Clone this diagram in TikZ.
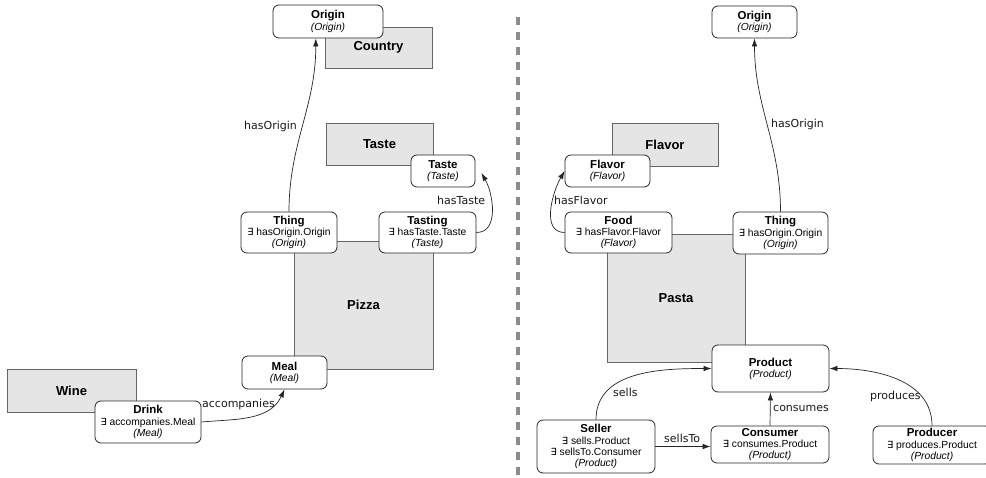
\documentclass[tikz,border=0pt]{standalone}
\usepackage{fontspec}
\setmainfont{Liberation Sans}
\newfontfamily\dejavu{DejaVu Sans}
\usetikzlibrary{arrows.meta,calc}

% title line, existential sign and range line inside a class box
\newcommand\ttl[1]{{\bfseries\fontsize{11.5}{11.2}\selectfont #1}}
\newcommand\exq{{\dejavu\fontsize{9.8}{11.2}\selectfont ∃}}
\newcommand\rng[1]{\textit{(#1)}}

\begin{document}
\begin{tikzpicture}[x=1pt,y=-1pt,
  conceptbox/.style={draw=black!60, fill=black!10, line width=0.8pt, inner sep=0pt,
    font=\bfseries\fontsize{13}{15}\selectfont},
  rbox/.style={draw=black!85, fill=white, rounded corners=6pt, line width=0.8pt,
    align=center, inner sep=0pt, font=\fontsize{10.3}{11.2}\selectfont},
  link/.style={draw=black!85, line width=0.7pt, -{Latex[length=8pt,width=5.5pt]}},
  elabel/.style={font=\dejavu\fontsize{11}{13}\selectfont, inner sep=0pt, anchor=west,
    text height=8pt, text depth=2.5pt, text=black!90},
  divider/.style={draw=black!45, line width=4.5pt, dash pattern=on 8pt off 7pt}]

\useasboundingbox (0,0) rectangle (986,477);
\fill[white] (0,0) rectangle (986,477);

% ---------------- left model ----------------
\node[conceptbox, minimum width=107, minimum height=41] (countryG) at (378.5,47.5) {Country};
\node[conceptbox, minimum width=107, minimum height=42] (tasteG) at (379.5,144) {Taste};
\node[conceptbox, minimum width=139, minimum height=128] (pizzaG) at (363.5,305) {Pizza};
\node[conceptbox, minimum width=129, minimum height=43] (wineG) at (71.5,390.5) {Wine};

\node[rbox, minimum width=110, minimum height=33] (originL) at (328,21.5)
  {\ttl{Origin}\\\rng{Origin}};
\node[rbox, minimum width=64, minimum height=32] (tasteL) at (443,171)
  {\ttl{Taste}\\\rng{Taste}};
\node[rbox, minimum width=96, minimum height=41] (thingL) at (289,232.5)
  {\ttl{Thing}\\\exq{} hasOrigin.Origin\\\rng{Origin}};
\node[rbox, minimum width=97, minimum height=41] (tastingL) at (427.5,232.5)
  {\ttl{Tasting}\\\exq{} hasTaste.Taste\\\rng{Taste}};
\node[rbox, minimum width=85, minimum height=33] (mealL) at (284.5,372.5)
  {\ttl{Meal}\\\rng{Meal}};
\node[rbox, minimum width=106, minimum height=42] (drinkL) at (148,422)
  {\ttl{Drink}\\\exq{} accompanies.Meal\\\rng{Meal}};

\draw[link] (thingL.north) to[out=90,in=-90]
  ($(originL.south west)!0.39!(originL.south east)$);
\draw[link] (tastingL.east) to[out=0,in=-60] ($(tasteL.east)+(6,2)$);
\draw[link] (drinkL.east) to[out=5,in=245] (mealL.south);

\node[elabel] (lblOriginL) at (244,127) {hasOrigin};
\node[elabel] (lblTaste) at (437,202) {hasTaste};
\node[elabel] (lblAccomp) at (202,405) {accompanies};

% ---------------- separator ----------------
\draw[divider] (518,17) -- (518,477);

% ---------------- right model ----------------
\node[conceptbox, minimum width=106, minimum height=43] (flavorG) at (665,144.5) {Flavor};
\node[conceptbox, minimum width=138, minimum height=128] (pastaG) at (676,298) {Pasta};

\node[rbox, minimum width=85, minimum height=32] (originR) at (754.5,22)
  {\ttl{Origin}\\\rng{Origin}};
\node[rbox, minimum width=85, minimum height=32] (flavorR) at (607.5,171)
  {\ttl{Flavor}\\\rng{Flavor}};
\node[rbox, minimum width=107, minimum height=41] (foodR) at (618.5,232.5)
  {\ttl{Food}\\\exq{} hasFlavor.Flavor\\\rng{Flavor}};
\node[rbox, minimum width=95, minimum height=42] (thingR) at (780.5,233)
  {\ttl{Thing}\\\exq{} hasOrigin.Origin\\\rng{Origin}};
\node[rbox, minimum width=117, minimum height=47] (productR) at (770.5,368.5)
  {\ttl{Product}\\\rng{Product}};
\node[rbox, minimum width=118, minimum height=53] (sellerR) at (596,446.5)
  {\ttl{Seller}\\\exq{} sells.Product\\\exq{} sellsTo.Consumer\\\rng{Product}};
\node[rbox, minimum width=118, minimum height=37] (consumerR) at (770,444.5)
  {\ttl{Consumer}\\\exq{} consumes.Product\\\rng{Product}};
\node[rbox, minimum width=118, minimum height=38] (producerR) at (932,445)
  {\ttl{Producer}\\\exq{} produces.Product\\\rng{Product}};

\draw[link] (thingR.north) to[out=90,in=-90] (originR.south);
\draw[link] (foodR.west) to[out=180,in=240] (flavorR.west);
\draw[link] (sellerR.north) to[out=90,in=180] (productR.west);
\draw[link] (consumerR.north) -- (productR.south);
\draw[link] (producerR.north) to[out=90,in=0] (productR.east);
\draw[link] (sellerR.east) -- (sellerR.east -| consumerR.west);

\node[elabel] (lblOriginR) at (771,125) {hasOrigin};
\node[elabel] (lblFlavor) at (554,202) {hasFlavor};
\node[elabel] (lblSells) at (613,394) {sells};
\node[elabel] (lblSellsTo) at (664,440) {sellsTo};
\node[elabel] (lblConsumes) at (773,409) {consumes};
\node[elabel] (lblProduces) at (870,397) {produces};
\end{tikzpicture}
\end{document}
